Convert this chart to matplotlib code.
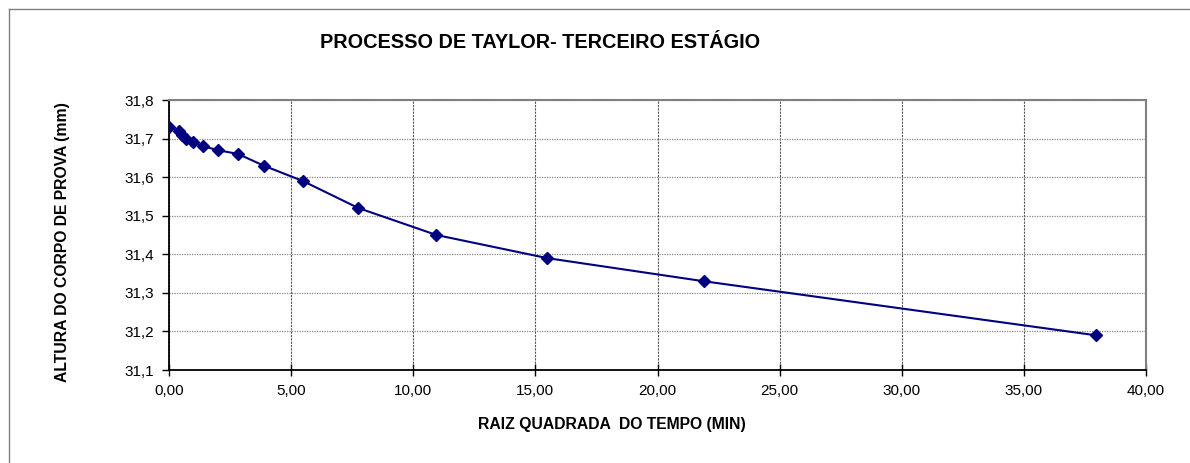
import numpy as np
import matplotlib.pyplot as plt
from matplotlib.lines import Line2D

# raiz quadrada do tempo (min) x altura do corpo de prova (mm)
raiz_tempo = [0.00, 0.39, 0.55, 0.71, 1.00, 1.41, 2.00, 2.83, 3.87, 5.48,
              7.75, 10.95, 15.49, 21.91, 37.95]
altura = [31.73, 31.72, 31.71, 31.70, 31.69, 31.68, 31.67, 31.66, 31.63, 31.59,
          31.52, 31.45, 31.39, 31.33, 31.19]

x_ticks = [0, 5, 10, 15, 20, 25, 30, 35, 40]
y_ticks = [31.1, 31.2, 31.3, 31.4, 31.5, 31.6, 31.7, 31.8]

plt.rcParams['font.family'] = ['Liberation Sans', 'DejaVu Sans']

fig = plt.figure(figsize=(11.9, 4.63), dpi=100)
ax = fig.add_axes([169 / 1190, 1 - 370 / 463, (1146 - 169) / 1190, 270 / 463])

ax.plot(raiz_tempo, altura, color='#000080', lw=1.5, marker='D', ms=6,
        markeredgecolor='#000080', markerfacecolor='#000080', zorder=3)

ax.set_xlim(0, 40)
ax.set_ylim(31.1, 31.8)
ax.set_xticks(x_ticks)
ax.set_yticks(y_ticks)
ax.set_xticklabels([f'{v:.2f}'.replace('.', ',') for v in x_ticks], fontsize=11)
ax.set_yticklabels([f'{v:.1f}'.replace('.', ',') for v in y_ticks], fontsize=11)
ax.tick_params(axis='x', direction='inout', length=8, width=1, pad=6)
ax.tick_params(axis='y', direction='out', length=5, width=1, pad=6)

ax.xaxis.grid(True, color='#555555', linestyle=(0, (2, 1)), lw=0.8)
ax.yaxis.grid(True, color='#888888', linestyle=(0, (1, 1)), lw=0.9)

for s in ['left', 'bottom']:
    ax.spines[s].set_color('black')
    ax.spines[s].set_linewidth(1.3)
for s in ['top', 'right']:
    ax.spines[s].set_color('#808080')
    ax.spines[s].set_linewidth(1.5)

fig.text(540 / 1190, 1 - 42 / 463, 'PROCESSO DE TAYLOR- TERCEIRO ESTÁGIO',
         ha='center', va='center', fontsize=14.3, fontweight='bold')
fig.text(612 / 1190, 1 - 424 / 463, 'RAIZ QUADRADA  DO TEMPO (MIN)',
         ha='center', va='center', fontsize=11.3, fontweight='bold')
fig.text(63 / 1190, 1 - 242 / 463, 'ALTURA DO CORPO DE PROVA (mm)',
         ha='center', va='center', fontsize=11.3, fontweight='bold', rotation=90)

# borda externa do grafico
fig.add_artist(Line2D([9 / 1190, 1], [1 - 9 / 463, 1 - 9 / 463],
                      transform=fig.transFigure, color='#808080', lw=1))
fig.add_artist(Line2D([9 / 1190, 9 / 1190], [0, 1 - 9 / 463],
                      transform=fig.transFigure, color='#808080', lw=1))

fig.savefig('out.png', dpi=100)
